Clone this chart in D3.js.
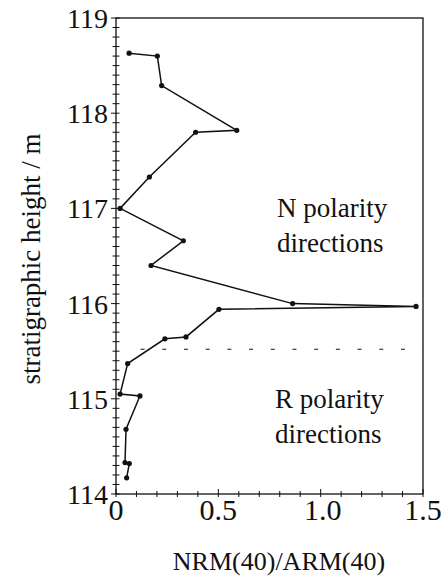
<!DOCTYPE html>
<html>
<head>
<meta charset="UTF-8">
<script src="https://d3js.org/d3.v7.min.js"></script>
<style>
  body { margin: 0; background: #fff; }
</style>
</head>
<body>
<div class="chart"></div>
<script>
// NRM(40)/ARM(40) ratio against stratigraphic height
var ratio  = [0.064, 0.202, 0.223, 0.590, 0.389, 0.163, 0.020, 0.329, 0.171, 0.863, 1.466,
              0.503, 0.342, 0.239, 0.057, 0.020, 0.117, 0.049, 0.044, 0.065, 0.052];
var height = [118.63, 118.60, 118.29, 117.82, 117.80, 117.33, 117.00, 116.66, 116.40, 116.00, 115.97,
              115.94, 115.65, 115.63, 115.37, 115.05, 115.03, 114.68, 114.33, 114.32, 114.17];
var boundary = 115.52; // polarity change
var xLabels = ["0", "0.5", "1.0", "1.5"];
var yLabels = ["114", "115", "116", "117", "118", "119"];

var W = 448, H = 580;
var pL = 116, pR = 423, pT = 18, pB = 494;
var serif = "'Liberation Serif', 'Times New Roman', Times, serif";

var svg = d3.select(".chart").append("svg")
  .attr("width", W).attr("height", H)
  .attr("font-family", serif)
  .style("font-family", serif);

var x = d3.scaleLinear().domain([0, 1.5]).range([pL, pR]);
var y = d3.scaleLinear().domain([114, 119]).range([pB, pT]);

// frame
svg.append("rect")
  .attr("x", pL).attr("y", pT)
  .attr("width", pR - pL).attr("height", pB - pT)
  .attr("fill", "none").attr("stroke", "#111").attr("stroke-width", 1.3);

// y ticks every 0.1 m, crossing the axis
var yt = d3.range(0, 51).map(function(i) { return 114 + i / 10; });
svg.selectAll(".ytick").data(yt).enter().append("line")
  .attr("x1", function(d, i) { return pL - (i % 10 == 0 ? 5 : 3.5); })
  .attr("x2", pL + 3.5)
  .attr("y1", function(d) { return y(d); })
  .attr("y2", function(d) { return y(d); })
  .attr("stroke", "#111").attr("stroke-width", 1);

// x ticks every 0.1
var xt = d3.range(0, 16).map(function(i) { return i / 10; });
svg.selectAll(".xtick").data(xt).enter().append("line")
  .attr("x1", function(d) { return x(d); })
  .attr("x2", function(d) { return x(d); })
  .attr("y1", function(d, i) { return pB - (i % 5 == 0 ? 5 : 3); })
  .attr("y2", pB + 3)
  .attr("stroke", "#111").attr("stroke-width", 1);

svg.selectAll(".ylab").data(yLabels).enter().append("text")
  .attr("x", pL - 8)
  .attr("y", function(d) { return y(+d) + 10; })
  .attr("text-anchor", "end")
  .style("font-family", serif)
  .style("font-size", "28px")
  .attr("fill", "#111")
  .text(function(d) { return d; });

svg.selectAll(".xlab").data(xLabels).enter().append("text")
  .attr("x", function(d) { return x(+d) + (d == "1.0" ? 2 : 0); })
  .attr("y", pB + 26)
  .attr("text-anchor", "middle")
  .style("font-family", serif)
  .style("font-size", "30px")
  .attr("fill", "#111")
  .text(function(d) { return d; });

// polarity boundary
svg.append("line")
  .attr("x1", x(0.12)).attr("x2", pR)
  .attr("y1", y(boundary)).attr("y2", y(boundary))
  .attr("stroke", "#111").attr("stroke-width", 1.1)
  .attr("stroke-dasharray", "4,17.7");

var pts = ratio.map(function(r, i) { return [r, height[i]]; });

svg.append("path")
  .datum(pts)
  .attr("fill", "none").attr("stroke", "#111").attr("stroke-width", 1.5)
  .attr("d", d3.line().x(function(d) { return x(d[0]); }).y(function(d) { return y(d[1]); }));

svg.selectAll(".pt").data(pts).enter().append("circle")
  .attr("cx", function(d) { return x(d[0]); })
  .attr("cy", function(d) { return y(d[1]); })
  .attr("r", 2.6).attr("fill", "#111");

// annotations
function block(lines, x0, y0) {
  lines.forEach(function(t, i) {
    svg.append("text").attr("x", x0).attr("y", y0 + i * 35)
      .style("font-family", serif)
      .style("font-size", "27px").attr("fill", "#111").text(t);
  });
}
block(["N polarity", "directions"], 277, 217);
block(["R polarity", "directions"], 275, 408);

svg.append("text")
  .attr("x", 279).attr("y", 570)
  .attr("text-anchor", "middle")
  .style("font-family", serif)
  .style("font-size", "26px").attr("fill", "#111")
  .text("NRM(40)/ARM(40)");

svg.append("text")
  .attr("transform", "translate(40,259) rotate(-90)")
  .attr("text-anchor", "middle")
  .style("font-family", serif)
  .style("font-size", "27px").attr("fill", "#111")
  .text("stratigraphic height / m");
</script>
</body>
</html>
